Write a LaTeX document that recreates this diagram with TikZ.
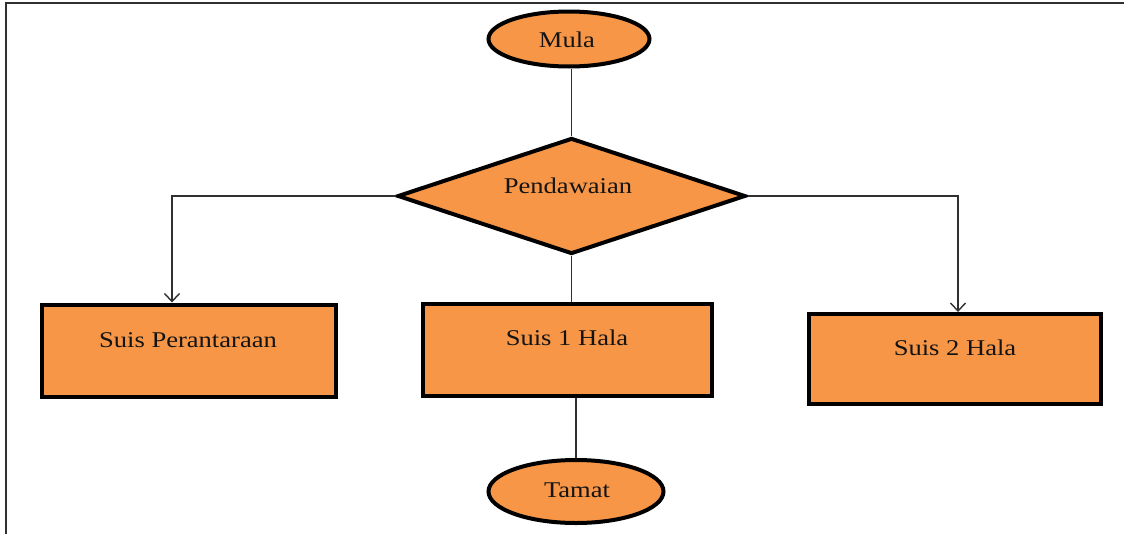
\documentclass[tikz,border=0pt]{standalone}
\usepackage{fontspec}
\setmainfont{Liberation Serif}[FakeStretch=1.18]
\usetikzlibrary{shapes.geometric,arrows.meta}
\definecolor{boxorange}{HTML}{F79646}
\definecolor{linegrey}{HTML}{303030}
\tikzset{
  shapeborder/.style={draw=black,line width=4pt,fill=boxorange,inner sep=0pt},
  termnode/.style={shapeborder,ellipse},
  procbox/.style={shapeborder,rectangle},
  decnode/.style={shapeborder,diamond},
  lbl/.style={anchor=base,inner sep=0pt,font=\fontsize{22.5}{27}\selectfont,text=black!92},
  conn/.style={draw=linegrey,line width=1.4pt},
  arr/.style={conn,-{Straight Barb[length=8pt,width=15pt,line width=1.4pt]}},
  framel/.style={draw=linegrey,line width=2pt}
}
\begin{document}
\begin{tikzpicture}[x=1pt,y=-1pt]
\useasboundingbox (0,0) rectangle (1124,533);
\coordinate (fa) at (6,534);
\coordinate (fb) at (6,3);
\coordinate (fc) at (1125,3);
\draw[framel] (fa) -- (fb) -- (fc);

\node[termnode,minimum width=161pt,minimum height=55pt] (mula) at (569,39) {};
\node[lbl] (tmula) at (567,47) {Mula};

\node[decnode,minimum width=348pt,minimum height=116pt,shape aspect=3] (pend) at (571.5,196) {};
\node[lbl] (tpend) at (568,193) {Pendawaian};

\node[procbox,minimum width=294pt,minimum height=92pt] (sp) at (189,350.5) {};
\node[lbl] (tsp) at (188,347) {Suis Perantaraan};

\node[procbox,minimum width=289pt,minimum height=92pt] (s1) at (567.5,349.5) {};
\node[lbl] (ts1) at (567,345) {Suis 1 Hala};

\node[procbox,minimum width=292pt,minimum height=90pt] (s2) at (955,359) {};
\node[lbl] (ts2) at (955,355) {Suis 2 Hala};

\node[termnode,minimum width=175pt,minimum height=63pt] (tamat) at (576,491.5) {};
\node[lbl] (ttamat) at (577,497) {Tamat};

\draw[conn] (pend.north |- mula.south) -- (pend.north);
\draw[conn] (pend.south) -- (pend.south |- s1.north);
\draw[conn] (s1.south -| tamat.north) -- (tamat.north);
\draw[arr] (pend.west) -| (sp.north -| 172,0);
\draw[arr] (pend.east) -| (s2.north -| 958,0);
\end{tikzpicture}
\end{document}
